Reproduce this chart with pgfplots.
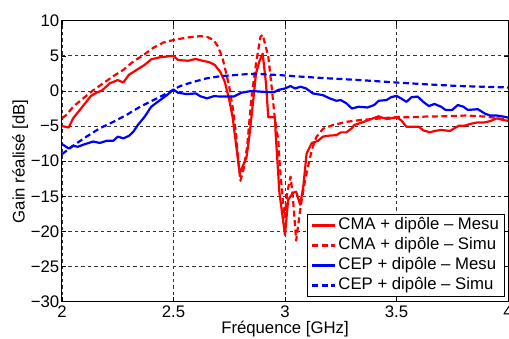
\documentclass[border=0pt]{standalone}
\usepackage{fontspec}
\setmainfont{Liberation Sans}
\usepackage{pgfplots}
\pgfplotsset{compat=1.18}
\begin{document}
\begin{tikzpicture}[font=\fontsize{16.8}{19}\selectfont]
\begin{axis}[
  width=446bp, height=281bp, scale only axis,
  xmin=2, xmax=4, ymin=-30, ymax=10,
  xtick={2,2.5,3,3.5,4}, xticklabels={2,2.5,3,3.5,4},
  ytick={-30,-25,-20,-15,-10,-5,0,5,10},
  yticklabels={−30,−25,−20,−15,−10,−5,0,5,10},
  xticklabel style={anchor=base, yshift=-16bp, inner sep=0pt},
  yticklabel style={anchor=east, inner sep=2.5bp},
  xlabel={Fréquence [GHz]},
  ylabel={Gain réalisé [dB]},
  xlabel style={at={(axis description cs:0.5,-0.112)}, anchor=base, inner sep=0pt},
  ylabel style={at={(axis description cs:-0.094,0.5)}, anchor=center, inner sep=0pt},
  grid=major,
  major grid style={dash pattern=on 3.5bp off 3bp, black!80, line width=0.7bp},
  axis line style={black, line width=1bp},
  tick style={black, line width=0.6bp},
  tick align=inside, major tick length=4.5bp,
  legend cell align=left,
  legend style={at={(0.993,0.017)}, anchor=south east, draw=black, line width=0.9bp,
    fill=white, inner xsep=3.5bp, inner ysep=1bp, row sep=0pt,
    nodes={inner sep=2bp, text height=12.5bp, text depth=3.5bp}},
  legend image code/.code={\draw[#1] (0bp,0bp) -- (23bp,0bp);},
  every axis plot/.append style={line width=2.2bp, line join=round},
]
\addplot[red, solid] coordinates {
(2.00,-5.0)(2.03,-5.2)(2.05,-3.9)(2.07,-3.1)(2.10,-1.9)(2.13,-0.7)(2.155,-0.25)(2.18,0.1)
(2.215,1.1)(2.25,1.55)(2.275,1.2)(2.30,2.3)(2.335,3.0)(2.37,3.7)(2.40,4.5)(2.44,4.8)
(2.47,4.9)(2.50,5.0)(2.52,4.4)(2.565,4.3)(2.60,4.55)(2.63,4.3)(2.66,4.1)(2.685,3.7)
(2.71,2.7)(2.73,1.3)(2.75,-1.3)(2.765,-3.7)(2.78,-7.5)(2.797,-11.7)(2.812,-10.6)
(2.827,-9.5)(2.84,-6.5)(2.857,-1.5)(2.87,2.5)(2.885,4.2)(2.90,5.3)(2.915,1.0)
(2.925,-3.75)(2.955,-3.75)(2.958,-6.0)(2.975,-14.5)(3.0,-20.5)(3.014,-15.5)(3.036,-14.5)
(3.05,-14.35)(3.068,-16.2)(3.082,-13.6)(3.097,-8.9)(3.12,-7.4)(3.148,-7.1)(3.17,-6.5)
(3.20,-6.35)(3.23,-6.3)(3.25,-5.9)(3.275,-5.9)(3.30,-5.3)(3.31,-4.85)(3.335,-4.6)
(3.365,-4.25)(3.395,-3.9)(3.42,-3.6)(3.43,-3.75)(3.46,-4.0)(3.50,-3.75)(3.52,-4.15)
(3.545,-5.1)(3.575,-5.1)(3.60,-5.1)(3.62,-5.6)(3.65,-5.9)(3.67,-5.7)(3.70,-5.55)
(3.74,-5.7)(3.76,-5.3)(3.78,-4.95)(3.805,-4.95)(3.83,-4.7)(3.86,-4.5)(3.89,-4.5)
(3.92,-4.3)(3.95,-3.9)(3.98,-4.15)(4.0,-4.25)
};
\addlegendentry{CMA + dipôle – Mesu}
\addplot[red, dash pattern=on 6bp off 3.5bp] coordinates {
(2.00,-3.9)(2.02,-3.4)(2.05,-2.25)(2.095,-1.05)(2.14,0.1)(2.185,1.1)(2.23,2.1)(2.275,3.0)
(2.32,4.2)(2.365,5.1)(2.41,6.15)(2.455,6.9)(2.50,7.25)(2.56,7.6)(2.62,7.8)(2.65,7.7)
(2.68,7.25)(2.70,6.3)(2.72,4.65)(2.735,2.7)(2.75,0.6)(2.765,-2.25)(2.78,-6.0)(2.79,-9.8)
(2.80,-12.8)(2.815,-11.0)(2.83,-8.0)(2.85,-0.8)(2.87,3.9)(2.89,7.7)(2.90,8.0)(2.925,4.9)
(2.94,0.6)(2.955,-4.1)(2.97,-7.0)(2.977,-10.8)(2.99,-15.5)(2.998,-18.0)(3.01,-14.5)
(3.025,-12.2)(3.035,-15.0)(3.05,-21.3)(3.07,-16.5)(3.09,-12.7)(3.11,-9.8)(3.125,-7.9)
(3.14,-6.6)(3.17,-5.4)(3.215,-4.85)(3.275,-4.4)(3.335,-4.15)(3.395,-4.0)(3.485,-3.75)
(3.56,-3.75)(3.63,-3.65)(3.72,-3.6)(3.81,-3.5)(3.90,-3.65)(4.0,-4.1)
};
\addlegendentry{CMA + dipôle – Simu}
\addplot[blue, solid] coordinates {
(2.00,-7.55)(2.03,-8.2)(2.05,-7.8)(2.07,-7.95)(2.10,-7.6)(2.14,-7.2)(2.17,-7.4)(2.20,-7.1)
(2.23,-7.1)(2.25,-6.5)(2.275,-6.75)(2.30,-6.4)(2.32,-5.8)(2.34,-4.85)(2.37,-3.7)(2.40,-2.25)
(2.44,-1.3)(2.47,-0.6)(2.50,0.2)(2.52,-0.25)(2.56,-0.45)(2.60,-0.35)(2.62,-0.75)(2.65,-1.05)
(2.68,-0.75)(2.72,-0.8)(2.77,-0.8)(2.805,-0.25)(2.85,0.0)(2.89,-0.1)(2.95,-0.2)(2.97,0.15)
(3.0,0.35)(3.025,0.7)(3.045,0.35)(3.07,0.6)(3.095,0.35)(3.125,-0.35)(3.17,-0.6)(3.20,-1.05)
(3.23,-1.4)(3.25,-1.3)(3.275,-1.75)(3.30,-2.5)(3.33,-2.25)(3.37,-2.35)(3.40,-2.0)(3.42,-1.4)
(3.455,-1.3)(3.475,-0.9)(3.50,-0.7)(3.52,-1.05)(3.545,-1.55)(3.567,-0.9)(3.595,-0.8)
(3.62,-1.55)(3.645,-2.15)(3.67,-1.85)(3.70,-2.25)(3.72,-2.7)(3.75,-2.7)(3.775,-2.0)
(3.80,-2.25)(3.82,-2.7)(3.865,-2.6)(3.895,-3.2)(3.92,-3.5)(3.95,-3.5)(3.98,-3.65)(4.0,-3.8)
};
\addlegendentry{CEP + dipôle – Mesu}
\addplot[blue, dash pattern=on 6bp off 3.5bp] coordinates {
(2.00,-9.0)(2.05,-7.8)(2.11,-6.5)(2.17,-5.3)(2.23,-4.4)(2.29,-3.4)(2.35,-2.25)(2.41,-1.3)
(2.47,-0.35)(2.53,0.7)(2.59,1.3)(2.65,1.8)(2.71,2.1)(2.77,2.25)(2.83,2.4)(2.89,2.4)
(2.98,2.25)(3.04,2.1)(3.19,1.8)(3.335,1.55)(3.50,1.2)(3.63,0.95)(3.78,0.7)(4.0,0.5)
};
\addlegendentry{CEP + dipôle – Simu}
\end{axis}
\pgfresetboundingbox
\path ([xshift=-62bp,yshift=-36.4bp]current axis.south west) rectangle ([xshift=1bp,yshift=20.7bp]current axis.north east);
\end{tikzpicture}
\end{document}
